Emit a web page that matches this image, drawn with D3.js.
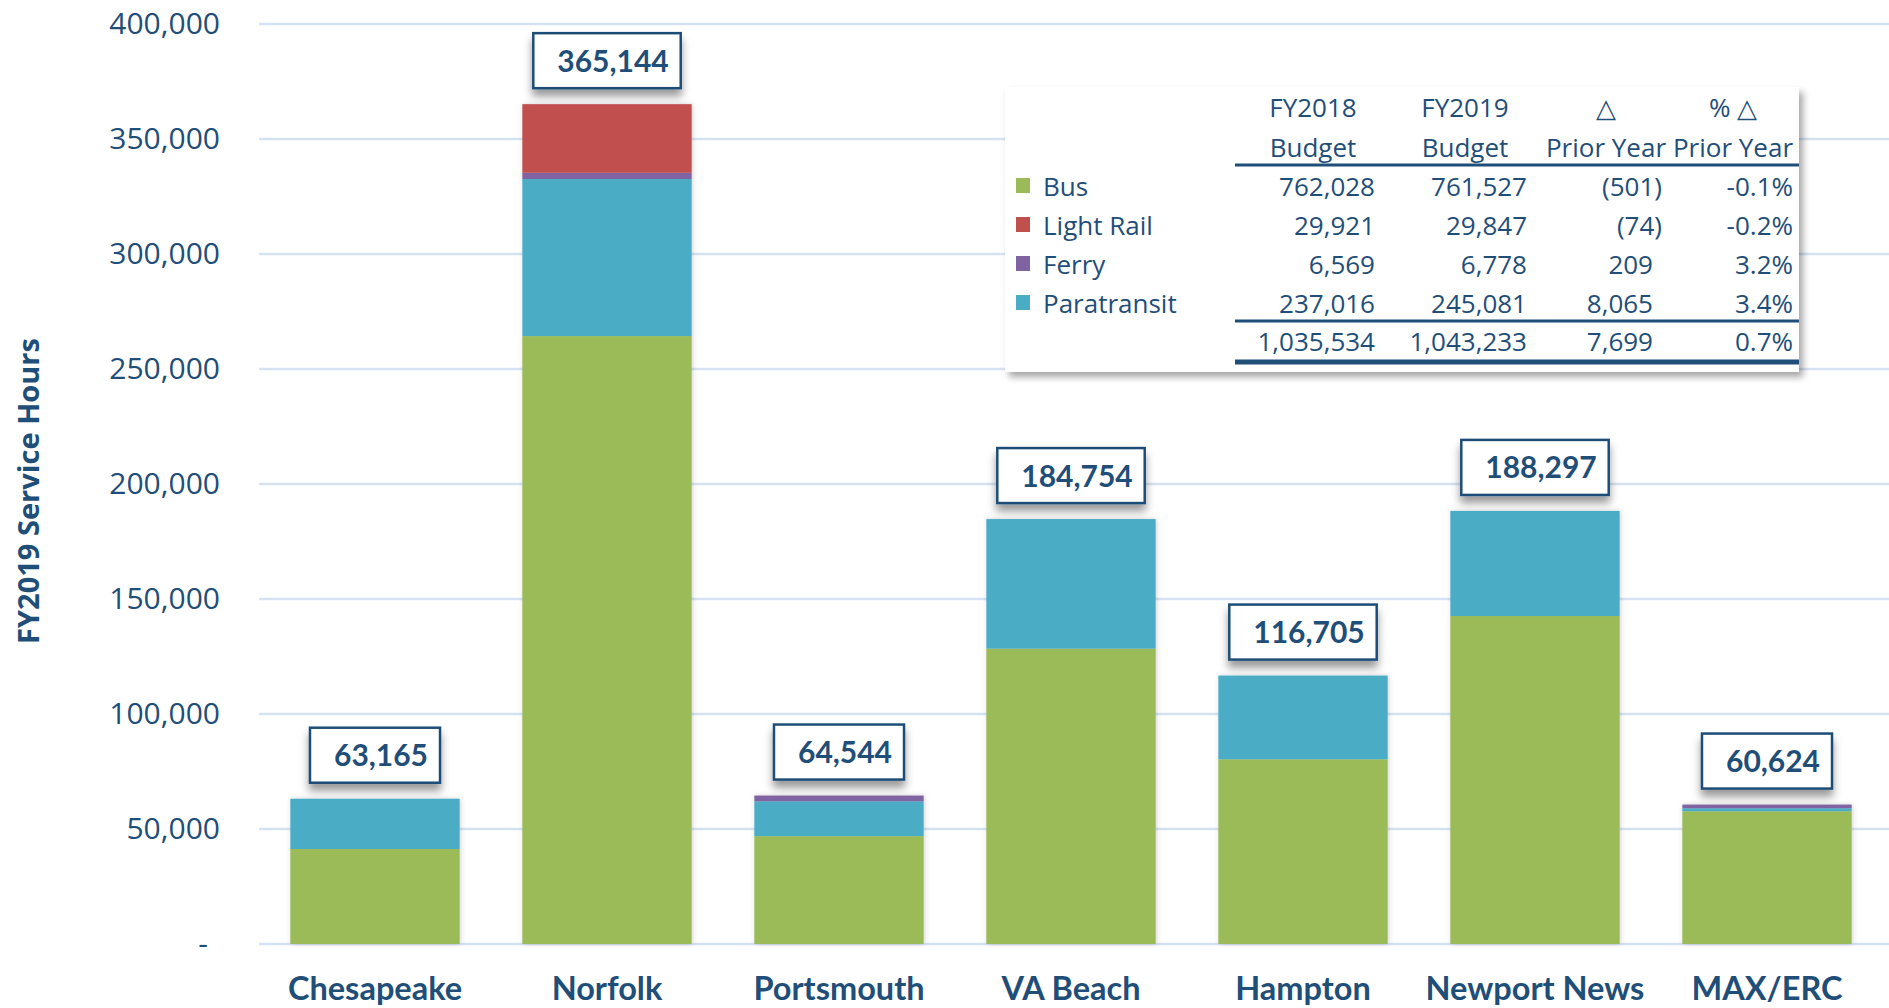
<html>
<head>
  <title>FY2019 Service Hours</title>
  <script src="https://d3js.org/d3.v7.min.js"></script>
  <style>
    body { margin: 0; background: #fff; }
    text { fill: #1F4E79; }
  </style>
</head>
<body>
<div id="chart"></div>
<script>
// chart data
var cities = ["Chesapeake", "Norfolk", "Portsmouth", "VA Beach", "Hampton", "Newport News", "MAX/ERC"];
var bus         = [41300, 264300, 46900, 128400, 80300, 142600, 57727];
var paratransit = [21865,  68297, 15144,  56354, 36405,  45697,  1319];
var ferry       = [    0,   2700,  2500,      0,     0,      0,  1578];
var lightRail   = [    0,  29847,     0,      0,     0,      0,     0];
var yTicks = [0, 50000, 100000, 150000, 200000, 250000, 300000, 350000, 400000];

// table data
var modes     = ["Bus", "Light Rail", "Ferry", "Paratransit"];
var fy2018    = [762028, 29921, 6569, 237016];
var fy2019    = [761527, 29847, 6778, 245081];
var change    = [-501, -74, 209, 8065];
var pctChange = [-0.1, -0.2, 3.2, 3.4];
var totals    = [1035534, 1043233, 7699, 0.7];

var colors = {"Bus": "#9BBB59", "Light Rail": "#C0504D", "Ferry": "#8064A2", "Paratransit": "#4BACC6"};
var navy = "#1F4E79";

var W = 1889, H = 1008;
var svg = d3.select("#chart").append("svg")
    .attr("width", W).attr("height", H);

var defs = svg.append("defs");
defs.append("filter").attr("id", "boxShadow")
    .attr("x", "-20%").attr("y", "-20%").attr("width", "140%").attr("height", "160%")
  .append("feDropShadow")
    .attr("dx", 0).attr("dy", 7).attr("stdDeviation", 4)
    .attr("flood-color", "#000").attr("flood-opacity", 0.4);
defs.append("filter").attr("id", "barShadow")
    .attr("x", "-10%").attr("y", "-5%").attr("width", "120%").attr("height", "110%")
  .append("feDropShadow")
    .attr("dx", 1).attr("dy", 0).attr("stdDeviation", 2.5)
    .attr("flood-color", "#000").attr("flood-opacity", 0.18);
defs.append("filter").attr("id", "tableShadow")
    .attr("x", "-5%").attr("y", "-5%").attr("width", "112%").attr("height", "115%")
  .append("feDropShadow")
    .attr("dx", 4).attr("dy", 5).attr("stdDeviation", 3.5)
    .attr("flood-color", "#000").attr("flood-opacity", 0.35);

// scales
var x = d3.scaleBand().domain(cities).range([259, 1883])
    .paddingInner(0.27).paddingOuter(0.135);
var y = d3.scaleLinear().domain([0, 400000]).range([944, 24]);

// gridlines
svg.append("g").selectAll("line").data(yTicks).enter().append("line")
    .attr("x1", 259).attr("x2", W)
    .attr("y1", function(d) { return y(d); })
    .attr("y2", function(d) { return y(d); })
    .attr("stroke", "#D5E2F2").attr("stroke-width", 2.5);

// y axis labels
var yAxis = d3.axisLeft(y).tickValues(yTicks)
    .tickSize(0).tickPadding(0)
    .tickFormat(function(d) { return d === 0 ? "-" : d3.format(",")(d); });
var yG = svg.append("g").attr("transform", "translate(220,0)").call(yAxis);
yG.select(".domain").remove();
yG.selectAll("text")
    .style("font-family", "'Open Sans', sans-serif")
    .style("font-size", "30px")
    .style("fill", navy);
yG.selectAll("text").filter(function(d) { return d === 0; })
    .attr("x", -12);

svg.append("text")
    .attr("transform", "translate(39,491) rotate(-90)")
    .attr("text-anchor", "middle")
    .style("font-family", "'Open Sans', sans-serif")
    .style("font-weight", "bold")
    .style("font-size", "29px")
    .text("FY2019 Service Hours");

// stacked bars
var rows = cities.map(function(c, i) {
  return {city: c, "Bus": bus[i], "Paratransit": paratransit[i], "Ferry": ferry[i], "Light Rail": lightRail[i]};
});
var keys = ["Bus", "Paratransit", "Ferry", "Light Rail"];
var stacked = d3.stack().keys(keys)(rows);

var barG = svg.append("g").attr("filter", "url(#barShadow)");
barG.selectAll("g").data(stacked).enter().append("g")
    .attr("fill", function(s) { return colors[s.key]; })
  .selectAll("rect").data(function(s) { return s; }).enter().append("rect")
    .attr("x", function(d) { return x(d.data.city); })
    .attr("width", x.bandwidth())
    .attr("y", function(d) { return y(d[1]); })
    .attr("height", function(d) { return y(d[0]) - y(d[1]); });

// category labels
svg.append("g").selectAll("text").data(cities).enter().append("text")
    .attr("x", function(d) { return x(d) + x.bandwidth() / 2; })
    .attr("y", 1000)
    .attr("text-anchor", "middle")
    .style("font-family", "Lato, sans-serif")
    .style("font-weight", "bold")
    .style("font-size", "32.5px")
    .text(function(d) { return d; });

// total labels in boxes
var totalsByCity = rows.map(function(r) { return r["Bus"] + r["Paratransit"] + r["Ferry"] + r["Light Rail"]; });
var boxH = 55, gap = 16;
var labelG = svg.append("g").selectAll("g").data(cities).enter().append("g");
labelG.each(function(c, i) {
  var g = d3.select(this);
  var cx = x(c) + x.bandwidth() / 2;
  var top = y(totalsByCity[i]);
  var rect = g.append("rect");
  var t = g.append("text")
      .attr("x", cx + 6)
      .attr("y", top - gap - boxH / 2 + 11)
      .attr("text-anchor", "middle")
      .style("font-family", "Lato, sans-serif")
      .style("font-weight", "bold")
      .style("font-size", "30px")
      .text(d3.format(",")(totalsByCity[i]));
  var w = t.node().getComputedTextLength() + 36;
  rect.attr("x", cx - w / 2).attr("y", top - gap - boxH)
      .attr("width", w).attr("height", boxH)
      .attr("fill", "#fff").attr("stroke", navy).attr("stroke-width", 2.5)
      .attr("filter", "url(#boxShadow)");
});

// table
var tbl = svg.append("g");
tbl.append("rect")
    .attr("x", 1005).attr("y", 87).attr("width", 794).attr("height", 285)
    .attr("fill", "#fff").attr("filter", "url(#tableShadow)");

var tfont = function(sel) {
  return sel.style("font-family", "'Open Sans', sans-serif").style("font-size", "26px");
};

var headers = [
  {x: 1313, l1: "FY2018", l2: "Budget"},
  {x: 1465, l1: "FY2019", l2: "Budget"},
  {x: 1606, l1: "\u25B3", l2: "Prior Year"},
  {x: 1733, l1: "% \u25B3", l2: "Prior Year"}
];
headers.forEach(function(h) {
  tfont(tbl.append("text").attr("x", h.x).attr("y", 117).attr("text-anchor", "middle").text(h.l1));
  tfont(tbl.append("text").attr("x", h.x).attr("y", 157).attr("text-anchor", "middle").text(h.l2));
});

tbl.append("line").attr("x1", 1235).attr("x2", 1799).attr("y1", 165).attr("y2", 165)
    .attr("stroke", navy).attr("stroke-width", 3);
tbl.append("line").attr("x1", 1235).attr("x2", 1799).attr("y1", 321).attr("y2", 321)
    .attr("stroke", navy).attr("stroke-width", 3);
tbl.append("line").attr("x1", 1235).attr("x2", 1799).attr("y1", 362).attr("y2", 362)
    .attr("stroke", navy).attr("stroke-width", 5);

var fmt = d3.format(",");
var fmtChange = function(v) { return v < 0 ? "(" + fmt(-v) + ")" : fmt(v); };
var fmtPct = function(v) { return (v < 0 ? "-" : "") + Math.abs(v).toFixed(1) + "%"; };
var rowY = [196, 235, 274, 313];

modes.forEach(function(m, i) {
  var yy = rowY[i];
  tbl.append("rect").attr("x", 1016).attr("y", yy - 18).attr("width", 14).attr("height", 15)
      .attr("fill", colors[m]);
  tfont(tbl.append("text").attr("x", 1043).attr("y", yy).text(m));
  tfont(tbl.append("text").attr("x", 1375).attr("y", yy).attr("text-anchor", "end").text(fmt(fy2018[i])));
  tfont(tbl.append("text").attr("x", 1527).attr("y", yy).attr("text-anchor", "end").text(fmt(fy2019[i])));
  tfont(tbl.append("text").attr("x", change[i] < 0 ? 1662 : 1653).attr("y", yy).attr("text-anchor", "end").text(fmtChange(change[i])));
  tfont(tbl.append("text").attr("x", 1793).attr("y", yy).attr("text-anchor", "end").text(fmtPct(pctChange[i])));
});
var ty = 351;
tfont(tbl.append("text").attr("x", 1375).attr("y", ty).attr("text-anchor", "end").text(fmt(totals[0])));
tfont(tbl.append("text").attr("x", 1527).attr("y", ty).attr("text-anchor", "end").text(fmt(totals[1])));
tfont(tbl.append("text").attr("x", 1653).attr("y", ty).attr("text-anchor", "end").text(fmtChange(totals[2])));
tfont(tbl.append("text").attr("x", 1793).attr("y", ty).attr("text-anchor", "end").text(fmtPct(totals[3])));
</script>
</body>
</html>
